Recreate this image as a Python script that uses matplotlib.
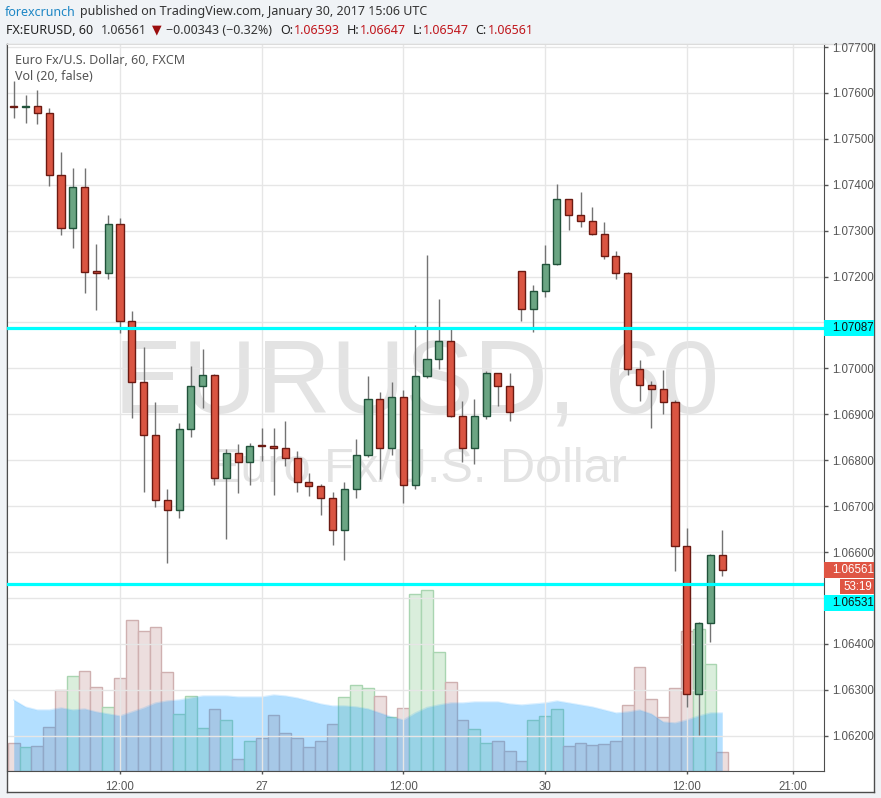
import matplotlib
matplotlib.use("Agg")
import matplotlib.pyplot as plt
from matplotlib.patches import Rectangle
from matplotlib.lines import Line2D
import numpy as np
import pandas as pd

# EUR/USD hourly candles (FXCM), 26 Jan 2017 03:00 -> 30 Jan 2017 15:00 UTC
opens = [1.07571, 1.07570, 1.07572, 1.07556, 1.07421, 1.07305, 1.07395, 1.07212, 1.07207, 1.07314,
         1.07103, 1.06970, 1.06854, 1.06713, 1.06691, 1.06867, 1.06961, 1.06985, 1.06761, 1.06815,
         1.06795, 1.06833, 1.06831, 1.06826, 1.06804, 1.06752, 1.06743, 1.06717, 1.06647, 1.06737,
         1.06811, 1.06933, 1.06826, 1.06937, 1.06747, 1.06983, 1.07020, 1.07059, 1.06896, 1.06826,
         1.06896, 1.06989, 1.06961, 1.07212, 1.07129, 1.07168, 1.07227, 1.07368, 1.07334, 1.07321,
         1.07292, 1.07244, 1.07207, 1.06998, 1.06963, 1.06956, 1.06927, 1.06612, 1.06290, 1.06445,
         1.06593]
highs = [1.07626, 1.07596, 1.07607, 1.07567, 1.07472, 1.07437, 1.07437, 1.07271, 1.07334, 1.07328,
         1.07125, 1.07047, 1.06927, 1.06737, 1.06880, 1.07005, 1.07042, 1.06987, 1.06824, 1.06835,
         1.06837, 1.06870, 1.06870, 1.06885, 1.06820, 1.06772, 1.06749, 1.06730, 1.06752, 1.06846,
         1.06983, 1.06948, 1.06970, 1.06953, 1.07095, 1.07247, 1.07151, 1.07088, 1.06929, 1.06933,
         1.06994, 1.06990, 1.06989, 1.07213, 1.07181, 1.07269, 1.07402, 1.07370, 1.07384, 1.07352,
         1.07319, 1.07256, 1.07209, 1.07018, 1.06972, 1.06996, 1.06931, 1.06652, 1.06448, 1.06595,
         1.06647]
lows = [1.07546, 1.07535, 1.07532, 1.07397, 1.07291, 1.07263, 1.07165, 1.07127, 1.07195, 1.07078,
        1.06891, 1.06731, 1.06699, 1.06577, 1.06675, 1.06851, 1.06914, 1.06746, 1.06629, 1.06729,
        1.06746, 1.06799, 1.06725, 1.06788, 1.06730, 1.06721, 1.06681, 1.06615, 1.06583, 1.06718,
        1.06806, 1.06758, 1.06811, 1.06707, 1.06737, 1.06978, 1.06999, 1.06894, 1.06797, 1.06791,
        1.06890, 1.06917, 1.06886, 1.07104, 1.07080, 1.07156, 1.07225, 1.07302, 1.07307, 1.07290,
        1.07238, 1.07194, 1.06985, 1.06930, 1.06870, 1.06901, 1.06559, 1.06263, 1.06202, 1.06405,
        1.06547]
closes = [1.07570, 1.07571, 1.07556, 1.07421, 1.07305, 1.07395, 1.07211, 1.07207, 1.07314, 1.07103,
          1.06970, 1.06854, 1.06713, 1.06691, 1.06867, 1.06961, 1.06985, 1.06761, 1.06815, 1.06795,
          1.06832, 1.06831, 1.06826, 1.06804, 1.06752, 1.06743, 1.06717, 1.06647, 1.06737, 1.06811,
          1.06933, 1.06826, 1.06937, 1.06747, 1.06983, 1.07020, 1.07059, 1.06896, 1.06826, 1.06896,
          1.06989, 1.06961, 1.06904, 1.07129, 1.07168, 1.07227, 1.07368, 1.07334, 1.07321, 1.07292,
          1.07244, 1.07207, 1.06998, 1.06963, 1.06956, 1.06927, 1.06612, 1.06290, 1.06445, 1.06593,
          1.06561]
volume = [560, 480, 500, 880, 1620, 1900, 2000, 1680, 1280, 1860,
          3020, 2800, 2880, 1980, 1140, 1500, 860, 1240, 1020, 240,
          600, 660, 1120, 760, 660, 480, 600, 940, 1480, 1720,
          1660, 1500, 1080, 1260, 3540, 3620, 2380, 1780, 1020, 840,
          560, 600, 400, 200, 1020, 1100, 1240, 500, 560, 520,
          540, 600, 1320, 2080, 1440, 1080, 1660, 2800, 2840, 2140,
          380]
vol_ma = [1420, 1280, 1220, 1220, 1260, 1220, 1240, 1180, 1140, 1100,
          1180, 1260, 1360, 1400, 1420, 1460, 1500, 1500, 1500, 1480,
          1480, 1480, 1520, 1500, 1460, 1400, 1340, 1300, 1300, 1280,
          1240, 1160, 1080, 1020, 1160, 1270, 1320, 1360, 1360, 1380,
          1380, 1380, 1340, 1320, 1340, 1360, 1400, 1360, 1320, 1280,
          1220, 1160, 1180, 1220, 1140, 980, 960, 1020, 1100, 1160,
          1160]

levels = [1.07087, 1.06531]
last_price = 1.06561
countdown = "53:19"

tick_times = ["2017-01-26 12:00", "2017-01-27 00:00", "2017-01-27 12:00",
              "2017-01-30 00:00", "2017-01-30 12:00", "2017-01-30 21:00"]
tick_labels = ["12:00", "27", "12:00", "30", "12:00", "21:00"]

# bar times (market closed over the weekend), extended into the future
times = pd.date_range("2017-01-26 03:00", "2017-01-27 21:00", freq="h").append(
    pd.date_range("2017-01-29 22:00", "2017-01-30 23:00", freq="h"))
pos = {t: i for i, t in enumerate(times)}
tick_pos = [pos[pd.Timestamp(t)] for t in tick_times]

o = np.array(opens); c = np.array(closes)
h = np.array(highs); l = np.array(lows)
x = np.arange(len(o))
up = c > o

W, H = 881, 798
def fx(px): return px / W
def fy(py): return 1 - py / H

fig = plt.figure(figsize=(W / 100, H / 100), dpi=100, facecolor="#f0f3f6")

# chart panel background and frame
fig.add_artist(Rectangle((fx(6.5), fy(792)), (874 - 6.5) / W, (792 - 43.5) / H,
                         transform=fig.transFigure, fc="white", ec="none", zorder=-2))
def fig_line(x0, y0, x1, y1, color="#4d4d4d"):
    fig.add_artist(Line2D([fx(x0), fx(x1)], [fy(y0), fy(y1)], color=color, lw=1,
                          transform=fig.transFigure, zorder=-1))
fig_line(6.5, 43.5, 874, 43.5, "#dcdcdc")
fig_line(874, 43.5, 874, 792)
fig_line(6.5, 792, 874, 792)
fig_line(6.5, 43.5, 6.5, 792)

rect = [fx(7), fy(771), (824 - 7) / W, (771 - 43.5) / H]
ax_vol = fig.add_axes(rect)
ax = fig.add_axes(rect, sharex=ax_vol)
ax.set_facecolor("none")
ax_vol.set_facecolor("white")

# watermark
wm = dict(color="#e3e3e3", family="Liberation Sans", ha="center", va="baseline",
          transform=ax_vol.transAxes, zorder=0)
ax_vol.text(0.501, 0.493, "EURUSD, 60", fontsize=74, **wm)
ax_vol.text(0.502, 0.397, "Euro Fx/U.S. Dollar", fontsize=35, **wm)

# volume + MA
vcol = np.where(up, "#daeedc", "#ecdede")
vedge = np.where(up, "#a9d5b1", "#cfb0b0")
ax_vol.bar(x, volume, width=1.0, color=vcol, edgecolor=vedge, lw=1, zorder=2)
ax_vol.fill_between(x, 0, vol_ma, color="#0496ff", alpha=0.3, lw=0, zorder=3)
ax_vol.plot(x, vol_ma, color="#0496ff", alpha=0.15, lw=1, zorder=3)
ax_vol.set_ylim(0, 14550)
ax_vol.set_yticks([])
for s in ax_vol.spines.values():
    s.set_visible(False)
ax_vol.tick_params(axis="x", length=0, labelbottom=False)

# candles
ax.vlines(x, l, h, color="#737373", lw=1, zorder=4)
ax.bar(x, np.abs(c - o), bottom=np.minimum(o, c), width=0.6,
       color=np.where(up, "#6ba583", "#da5542"),
       edgecolor=np.where(up, "#20523a", "#6b1a12"), lw=1, zorder=5)

for lev in levels:
    ax.axhline(lev, color="#00ffff", lw=2.3, zorder=6)

ax.set_xlim(-0.571, 68.62)
ax.set_ylim(1.061229, 1.077078)
ax.yaxis.tick_right()
yt = np.arange(1.062, 1.0775, 0.001)
ax.set_yticks(yt)
# labels hidden behind the price-scale boxes are left blank
covered = [round(v, 3) for v in levels]
ax.set_yticklabels(["" if round(v, 3) in covered else f"{v:.5f}" for v in yt])
ax.set_xticks(tick_pos)
ax.set_xticklabels(tick_labels)
ax.tick_params(axis="y", length=3, width=1, color="#555555", pad=3,
               labelsize=8.3, labelcolor="#555555")
ax.tick_params(axis="x", length=2, width=1, color="#555555", pad=5,
               labelsize=8.3, labelcolor="#555555")
for lab in ax.get_xticklabels() + ax.get_yticklabels():
    lab.set_family("Liberation Sans")
ax.grid(True, color="#e6e6e6", lw=1, zorder=1)
ax.set_axisbelow(True)
for side in ["left", "bottom", "right"]:
    ax.spines[side].set_color("#4d4d4d")
ax.spines["top"].set_color("#dcdcdc")

# price-scale labels
fig.canvas.draw()
def py_of(p):
    return H - ax.transData.transform((0, p))[1]

def scale_box(yc, text, fc, tc, x0=824, x1=874, hgt=16):
    fig.add_artist(Rectangle((fx(x0), fy(yc + hgt / 2)), (x1 - x0) / W, hgt / H,
                             transform=fig.transFigure, fc=fc, ec="none", zorder=7))
    fig.text(fx(x0 + 8 if x0 == 824 else x0 + 3), fy(yc), text, color=tc, fontsize=8.3,
             family="Liberation Sans", va="center", ha="left", zorder=8)

scale_box(py_of(levels[0]), "1.07087", "#00ffff", "#111111")
y_last = py_of(last_price)
scale_box(y_last, "1.06561", "#df5544", "white")
scale_box(y_last + 17, countdown, "#df5544", "white", x0=840, hgt=15)
scale_box(y_last + 33, "1.06531", "#00ffff", "#111111")

# header
hdr = dict(fontsize=9, va="center", ha="left", family=["Noto Sans", "DejaVu Sans"])
fig.text(fx(5), fy(12), "forexcrunch", color="#1e87c5", fontweight="bold", **hdr)
fig.text(fx(80), fy(12), "published on TradingView.com, January 30, 2017 15:06 UTC",
         color="#333333", **hdr)
red = "#c0161c"
line2 = [(6.5, "FX:EURUSD, 60", "#222222", "bold"), (101, "1.06561", "#333333", "normal"),
         (152, "\u25bc", "#9b0d0d", "normal"), (166, "\u22120.00343 (\u22120.32%)", "#333333", "normal"),
         (280, "O:", "#222222", "bold"), (294, "1.06593", red, "normal"),
         (347, "H:", "#222222", "bold"), (360, "1.06647", red, "normal"),
         (412.5, "L:", "#222222", "bold"), (423, "1.06547", red, "normal"),
         (475, "C:", "#222222", "bold"), (487.5, "1.06561", red, "normal")]
for px, txt, col, wt in line2:
    fig.text(fx(px), fy(30), txt, color=col, fontweight=wt, **hdr)

fig.text(fx(15), fy(60), "Euro Fx/U.S. Dollar, 60, FXCM", color="#555555",
         fontweight="bold", **hdr)
fig.text(fx(15), fy(77), "Vol (20, false)", color="#555555", **hdr)

fig.savefig("out.png", dpi=100, facecolor=fig.get_facecolor())
